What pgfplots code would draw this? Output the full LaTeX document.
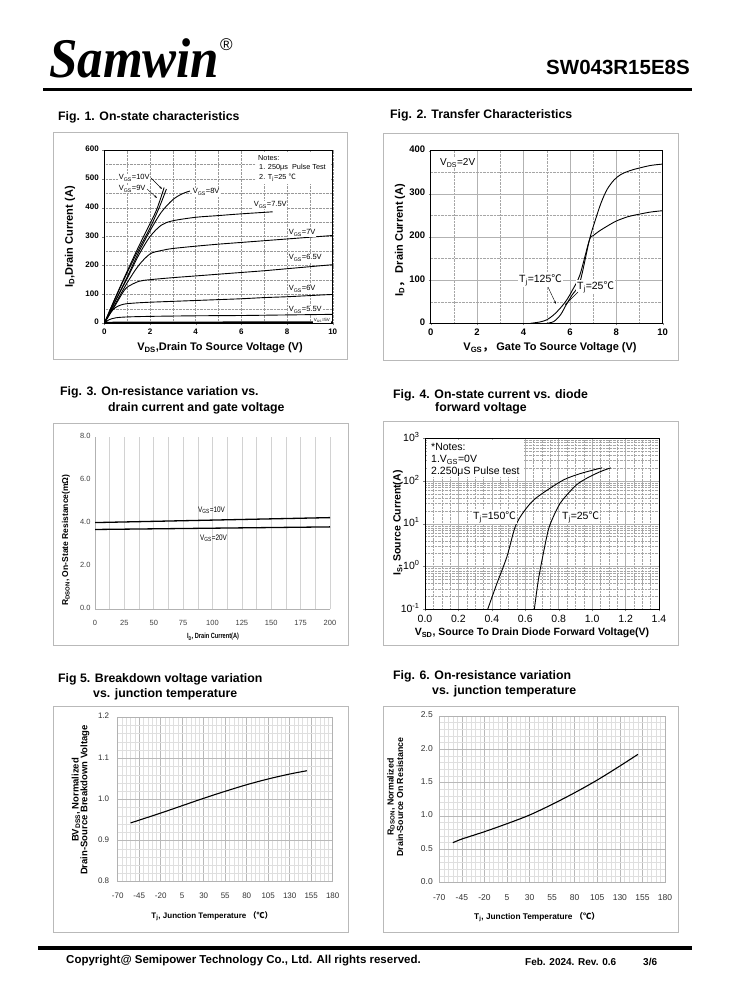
\documentclass[border=0pt]{standalone}
\usepackage{pgfplots}
\pgfplotsset{compat=1.18}
\usepackage{fontspec}
\setmainfont{Liberation Sans}
\newfontfamily\tms{Liberation Serif}
\newfontfamily\cjk{Noto Sans CJK SC}
\usetikzlibrary{arrows.meta}
\newcommand\fs[1]{\fontsize{#1}{#1}\selectfont}
\newcommand\dC{{\cjk ℃}}
\newcommand\sbs[1]{\textsubscript{#1}}
\pgfplotsset{every axis/.append style={scale only axis, anchor=south west,
  /pgf/number format/assume math mode=true, typeset ticklabels with strut},
  cv/.style={black, line width=0.9pt, no marks}}
\begin{document}
\begin{tikzpicture}
\useasboundingbox (0pt,0pt) rectangle (738pt,-1000pt);
\fill[white] (0pt,0pt) rectangle (738pt,-1000pt);

% ---------------- Fig 1 ----------------
\begin{axis}[at={(104.3pt,-323.3pt)}, width=228.4pt, height=173.3pt,
  xmin=0, xmax=10, ymin=0, ymax=600,
  xtick={0,2,...,10}, ytick={0,100,...,600},
  xticklabels={0,2,4,6,8,10}, yticklabels={0,100,200,300,400,500,600},
  minor x tick num=1, minor y tick num=1, grid=both,
  major grid style={densely dotted, gray!80}, minor grid style={densely dotted, gray!80},
  tick label style={font=\bfseries\fs{8}}, tick align=outside,
  major tick length=2pt, minor tick length=0pt, xtick pos=left, ytick pos=left,
  axis line style={black, line width=0.8pt}]
\addplot[cv, smooth] coordinates {(0,0)(0.5,92)(1,180)(1.5,265)(2,345)(2.3,395)(2.62,470)};
\addplot[cv, smooth] coordinates {(0,0)(0.5,90)(1,175)(1.5,255)(2,330)(2.4,400)(2.72,465)};
\addplot[cv, smooth] coordinates {(0,0)(0.5,80)(1,160)(1.5,245)(2,320)(2.5,385)(3,428)(3.4,448)(3.75,458)};
\addplot[cv, smooth] coordinates {(0,0)(0.5,80)(1,155)(1.5,235)(2,300)(2.5,340)(3,355)(4,367)(5,373)(6,379)(7.37,386)};
\addplot[cv, smooth] coordinates {(0,0)(0.5,70)(1,140)(1.5,200)(2,240)(2.5,252)(3,259)(4,267)(5,274)(6,280)(7,286)(8,292)(9,298)(10,304)};
\addplot[cv, smooth] coordinates {(0,0)(0.5,65)(0.8,105)(1,125)(1.5,145)(2,151)(3,158)(4,164)(5,170)(6,176)(7,182)(8,189)(9,196)(10,203)};
\addplot[cv, smooth] coordinates {(0,0)(0.25,35)(0.5,55)(0.75,64)(1,68)(1.5,71)(2,73)(3,76)(4,79)(5,82)(6,85)(7,89)(8,92)(9,96)(10,100)};
\addplot[cv, smooth] coordinates {(0,0)(0.2,12)(0.5,19)(1,22)(2,24)(4,26)(6,27)(8,29)(10,31)};
\addplot[cv, line width=1.6pt] coordinates {(0,0)(0.2,2.5)(1,3)(10,4)};
\end{axis}

% ---------------- Fig 2 ----------------
\begin{axis}[at={(430.7pt,-323.3pt)}, width=232pt, height=172.6pt,
  xmin=0, xmax=10, ymin=0, ymax=400,
  xtick={0,2,...,10}, ytick={0,100,...,400},
  xticklabels={0,2,4,6,8,10}, yticklabels={0,100,200,300,400},
  minor x tick num=1, minor y tick num=1, grid=both,
  major grid style={gray!60, line width=0.6pt}, minor grid style={densely dotted, gray!70},
  tick label style={font=\bfseries\fs{9.5}}, tick align=outside,
  major tick length=2pt, minor tick length=0pt, xtick pos=left, ytick pos=left,
  axis line style={black, line width=0.8pt}]
\addplot[cv, smooth] coordinates {(5.0,0)(5.3,4)(5.6,20)(5.86,45)(6.1,66)(6.43,95)(6.84,193)(7.1,240)(7.35,280)(7.6,310)(7.9,332)(8.2,345)(8.6,354)(9,360)(9.5,366)(10,369)};
\addplot[cv, smooth] coordinates {(4.3,0)(4.7,3)(5.0,8)(5.29,19)(5.6,36)(5.86,54)(6.1,76)(6.43,112)(6.84,193)(7.0,203)(7.3,215)(7.6,225)(8.0,237)(8.5,247)(9,253)(9.5,258)(10,261)};
\end{axis}

% ---------------- Fig 3 ----------------
\begin{axis}[at={(95pt,-609.3pt)}, width=235pt, height=172.6pt,
  xmin=0, xmax=200, ymin=0, ymax=8,
  xtick={0,25,50,75,100,125,150,175,200}, ytick={0,2,4,6,8},
  xticklabels={0,25,50,75,100,125,150,175,200},
  yticklabels={0.0,2.0,4.0,6.0,8.0},
  minor x tick num=1, xmajorgrids, xminorgrids,
  major grid style={gray!35, line width=0.6pt}, minor grid style={gray!35, line width=0.6pt},
  axis lines*=left, axis line style={gray!60, line width=0.8pt},
  tick label style={font=\fs{7.5}, text=black!75}, major tick length=0pt, minor tick length=0pt,
  xticklabel style={yshift=-7pt}, yticklabel style={xshift=-1pt}]
\addplot[cv, line width=1.3pt] coordinates {(0,4.02)(200,4.25)};
\addplot[cv, line width=1.3pt] coordinates {(0,3.70)(200,3.82)};
\end{axis}

% ---------------- Fig 4 ----------------
\begin{axis}[at={(425pt,-609.3pt)}, width=234pt, height=171pt,
  ymode=log, xmin=0, xmax=1.4, ymin=0.1, ymax=1000,
  xtick={0,0.2,0.4,0.6,0.8,1.0,1.2,1.4}, xticklabels={0.0,0.2,0.4,0.6,0.8,1.0,1.2,1.4},
  ytick={0.1,1,10,100,1000},
  yticklabels={10\textsuperscript{-1},10\textsuperscript{0},10\textsuperscript{1},10\textsuperscript{2},10\textsuperscript{3}},
  minor x tick num=3,
  minor ytick={0.2,0.3,0.4,0.5,0.6,0.7,0.8,0.9,2,3,4,5,6,7,8,9,20,30,40,50,60,70,80,90,200,300,400,500,600,700,800,900},
  grid=both,
  major grid style={gray!60, line width=0.6pt}, minor grid style={densely dotted, gray!70},
  tick label style={font=\fs{10.5}}, tick align=outside,
  major tick length=2pt, minor tick length=0pt, xtick pos=left, ytick pos=left,
  axis line style={black, line width=0.8pt}]
\addplot[cv, smooth] coordinates {(0.375,0.1)(0.43,0.4)(0.49,1.7)(0.54,8.6)(0.59,19)(0.65,36)(0.73,61)(0.83,107)(0.93,150)(1.06,205)};
\addplot[cv, smooth] coordinates {(0.654,0.1)(0.678,0.48)(0.708,2.04)(0.738,7.2)(0.768,14.7)(0.808,30)(0.848,47)(0.907,82)(0.967,116)(1.047,165)(1.111,204)};
\end{axis}

% ---------------- Fig 5 ----------------
\begin{axis}[at={(117.7pt,-881.7pt)}, width=215pt, height=164.4pt,
  xmin=-70, xmax=180, ymin=0.8, ymax=1.2,
  xtick={-70,-45,-20,5,30,55,80,105,130,155,180}, ytick={0.8,0.9,1.0,1.1,1.2},
  xticklabels={-70,-45,-20,5,30,55,80,105,130,155,180},
  yticklabels={0.8,0.9,1.0,1.1,1.2},
  minor x tick num=4, minor y tick num=4, grid=both,
  major grid style={gray!55, line width=0.5pt}, minor grid style={gray!25, line width=0.5pt},
  axis line style={gray!60, line width=0.7pt},
  tick label style={font=\fs{8}, text=black!80}, major tick length=0pt, minor tick length=0pt,
  xticklabel style={yshift=-8pt}, yticklabel style={xshift=-5pt}]
\addplot[cv, smooth, line width=1.1pt] coordinates {(-55,0.943)(-20,0.967)(5,0.985)(30,1.003)(55,1.020)(80,1.036)(105,1.050)(130,1.062)(150,1.070)};
\end{axis}

% ---------------- Fig 6 ----------------
\begin{axis}[at={(439.3pt,-882.7pt)}, width=225.7pt, height=166.7pt,
  xmin=-70, xmax=180, ymin=0, ymax=2.5,
  xtick={-70,-45,-20,5,30,55,80,105,130,155,180}, ytick={0,0.5,1,1.5,2,2.5},
  xticklabels={-70,-45,-20,5,30,55,80,105,130,155,180},
  yticklabels={0.0,0.5,1.0,1.5,2.0,2.5},
  minor x tick num=4, minor y tick num=4, grid=both,
  major grid style={gray!55, line width=0.5pt}, minor grid style={gray!25, line width=0.5pt},
  axis line style={gray!60, line width=0.7pt},
  tick label style={font=\fs{8.5}, text=black!80}, major tick length=0pt, minor tick length=0pt,
  xticklabel style={yshift=-8pt}, yticklabel style={xshift=-3pt}]
\addplot[cv, smooth, line width=1.1pt] coordinates {(-55,0.60)(-45,0.655)(-20,0.765)(5,0.885)(30,1.015)(55,1.175)(80,1.35)(105,1.54)(130,1.75)(150,1.925)};
\end{axis}

\begin{scope}[x=1pt, y=-1pt]
% header / footer
\node[anchor=base west, inner sep=0] at (49,78) {\scalebox{1.02}[1.12]{\tms\bfseries\itshape\fs{50}Samwin}};
\node[anchor=north west, inner sep=0] at (220,38) {\fs{17}®};
\node[anchor=base east, inner sep=0] at (690,75) {\bfseries\fs{20.5}SW043R15E8S};
\draw[line width=3pt] (43,89.5) -- (692,89.5);
\draw[line width=4pt] (38,948) -- (692,948);
\node[anchor=west, inner sep=0] at (66,961) {\bfseries\fs{11.5}Copyright@ Semipower Technology Co., Ltd. All rights reserved.};
\node[anchor=west, inner sep=0] at (525,962) {\bfseries\fs{10}Feb. 2024. Rev. 0.6};
\node[anchor=west, inner sep=0] at (643,962) {\bfseries\fs{10}3/6};

% frames
\draw[gray!55, line width=1pt] (53,133) rectangle (347,359);
\draw[gray!55, line width=1pt] (383,134) rectangle (678,360);
\draw[gray!55, line width=1pt] (53,423) rectangle (348,645);
\draw[gray!55, line width=1pt] (383,421) rectangle (678,645);
\draw[gray!55, line width=1pt] (53,706) rectangle (348,932);
\draw[gray!55, line width=1pt] (383,706) rectangle (678,932);

% titles
\begin{scope}[every node/.style={anchor=west, inner sep=0, font=\bfseries\fs{12.3}}]
\node at (58,117) {Fig. 1. On-state characteristics};
\node at (390,115) {Fig. 2. Transfer Characteristics};
\node at (60,392) {Fig. 3. On-resistance variation vs.};
\node at (108,408) {drain current and gate voltage};
\node at (393,395) {Fig. 4. On-state current vs. diode};
\node at (435,408) {forward voltage};
\node at (58,679) {Fig 5. Breakdown voltage variation};
\node at (93,694) {vs. junction temperature};
\node at (393,676) {Fig. 6. On-resistance variation};
\node at (432,691) {vs. junction temperature};
\end{scope}

% Fig 1 labels
\node[rotate=90, inner sep=0] at (70,237) {\bfseries\fs{11}I\sbs{D},Drain Current (A)};
\node[inner sep=0] at (220,348) {\bfseries\fs{11}V\sbs{DS},Drain To Source Voltage (V)};
\fill[white] (256,152) rectangle (331,184);
\begin{scope}[every node/.style={anchor=west, inner sep=0.6pt, fill=white, font=\fs{7.5}}]
\node at (118,178) {V\sbs{GS}=10V};
\node at (118,189) {V\sbs{GS}=9V};
\node at (192,192) {V\sbs{GS}=8V};
\node at (253,205) {V\sbs{GS}=7.5V};
\node at (288,233) {V\sbs{GS}=7V};
\node at (288,258) {V\sbs{GS}=6.5V};
\node at (288,289) {V\sbs{GS}=6V};
\node at (288,310) {V\sbs{GS}=5.5V};
\node[font=\fs{4.5}] at (313,320) {V\sbs{GS}=5V};
\end{scope}
\draw[line width=0.4pt, -{Stealth[length=3pt,width=2pt]}] (151,178) -- (162,189);
\draw[line width=0.4pt, -{Stealth[length=3pt,width=2pt]}] (147,189) -- (157,198);
\begin{scope}[every node/.style={anchor=west, inner sep=0, font=\fs{7.3}}]
\node at (258,158) {Notes:};
\node at (259,168) {1. 250μs\ \ Pulse Test};
\node at (259,178) {2. T\sbs{j}=25 \dC};
\end{scope}

% Fig 2 labels
\node[rotate=90, inner sep=0] at (400,240) {\bfseries\fs{11}I\sbs{D}{\cjk ，} Drain Current (A)};
\node[inner sep=0] at (550,348) {\bfseries\fs{11}V\sbs{GS}{\cjk ，} Gate To Source Voltage (V)};
\node[anchor=west, inner sep=1pt, fill=white] at (439,163) {\fs{10}V\sbs{DS}=2V};
\node[anchor=west, inner sep=1pt, fill=white] at (518,280) {\fs{10.5}T\sbs{j}=125\dC};
\node[anchor=west, inner sep=1pt, fill=white] at (576,287) {\fs{10.5}T\sbs{j}=25\dC};
\draw[line width=0.4pt, -{Stealth[length=3pt,width=2pt]}] (548,287) -- (556,304);
\draw[line width=0.4pt, -{Stealth[length=3pt,width=2pt]}] (578,292) -- (565,305);

% Fig 3 labels
\node[rotate=90, inner sep=0] at (66,540) {\bfseries\fs{8.5}R\sbs{DSON}, On-State Resistance(mΩ)};
\node[inner sep=0] at (213,637) {\scalebox{0.75}[1]{\bfseries\fs{7.5}I\sbs{D}, Drain Current(A)}};
\node[anchor=west, inner sep=0] at (198,510) {\scalebox{0.8}[1]{\fs{8}V\sbs{GS}=10V}};
\node[anchor=west, inner sep=0] at (200,538) {\scalebox{0.8}[1]{\fs{8}V\sbs{GS}=20V}};

% Fig 4 labels
\node[rotate=90, inner sep=0] at (398,523) {\bfseries\fs{10.5}I\sbs{S}, Source Current(A)};
\node[inner sep=0] at (532,633) {\bfseries\fs{10.5}V\sbs{SD}, Source To Drain Diode Forward Voltage(V)};
\fill[white] (427,440) rectangle (524,477);
\begin{scope}[every node/.style={anchor=west, inner sep=0, font=\fs{10.5}}]
\node at (431,447) {*Notes:};
\node at (431,460) {1.V\sbs{GS}=0V};
\node at (431,472) {2.250μS Pulse test};
\node[fill=white, inner sep=1pt] at (472,517) {T\sbs{j}=150\dC};
\node[fill=white, inner sep=1pt] at (561,517) {T\sbs{j}=25\dC};
\end{scope}

% Fig 5 labels
\node[rotate=90, inner sep=0] at (76,800) {\bfseries\fs{9.5}BV\sbs{DSS}, Normalized};
\node[rotate=90, inner sep=0] at (85,800) {\bfseries\fs{9.5}Drain-Source Breakdown Voltage};
\node[inner sep=0] at (212,916) {\bfseries\fs{8}T\sbs{j}, Junction Temperature {\cjk （℃）}};

% Fig 6 labels
\node[rotate=90, inner sep=0] at (391,797) {\bfseries\fs{8.8}R\sbs{DSON}, Normalized};
\node[rotate=90, inner sep=0] at (400,797) {\bfseries\fs{8.8}Drain-Source On Resistance};
\node[inner sep=0] at (537,917) {\bfseries\fs{8.3}T\sbs{j}, Junction Temperature {\cjk （℃）}};
\end{scope}
\end{tikzpicture}
\end{document}
